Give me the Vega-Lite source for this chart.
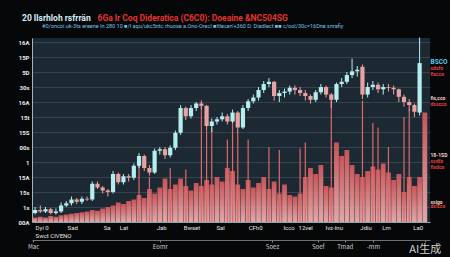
{
  "$schema": "https://vega.github.io/schema/vega-lite/v6.json",
  "autosize": {"type": "none"},
  "width": 398,
  "height": 184,
  "padding": {"left": 32, "top": 38, "right": 20, "bottom": 35},
  "background": "#060708",
  "config": {
    "view": {"fill": "#1c2933", "stroke": null},
    "font": "Roboto"
  },
  "title": {
    "text": "20  Ilsrhloh rsfrrän",
    "subtitle": "\u2800\u2800\u2800\u2800\u2800#0/oncoi.uk-3ts ereene In 280 10 ■/I aqu/ukc5ntc.rhuose a.Ono-Orecl ■Itlecen'+360 D: Diadlect ■■ c/ool/30c=16Dne snrafiy",
    "anchor": "start",
    "frame": "group",
    "dx": -10,
    "offset": -16,
    "color": "#d8eef8",
    "fontSize": 8.5,
    "fontWeight": "bold",
    "subtitleColor": "#78c4e6",
    "subtitleFontSize": 5.5,
    "subtitlePadding": 1
  },
  "data": {
    "values": [
      {"i": 0, "o": 0.6, "c": 0.8, "h": 1.0, "l": 0.5, "v": 0.3},
      {"i": 1, "o": 0.8, "c": 0.7, "h": 1.1, "l": 0.6, "v": 0.35},
      {"i": 2, "o": 0.7, "c": 0.85, "h": 1.0, "l": 0.6, "v": 0.3},
      {"i": 3, "o": 0.85, "c": 0.6, "h": 0.95, "l": 0.5, "v": 0.4},
      {"i": 4, "o": 0.6, "c": 0.7, "h": 0.9, "l": 0.5, "v": 0.35},
      {"i": 5, "o": 0.7, "c": 1.1, "h": 1.3, "l": 0.6, "v": 0.45},
      {"i": 6, "o": 1.1, "c": 1.25, "h": 1.4, "l": 1.0, "v": 0.5},
      {"i": 7, "o": 1.25, "c": 1.5, "h": 1.7, "l": 1.1, "v": 0.55},
      {"i": 8, "o": 1.5, "c": 1.35, "h": 1.6, "l": 1.2, "v": 0.6},
      {"i": 9, "o": 1.35, "c": 1.55, "h": 1.7, "l": 1.2, "v": 0.65},
      {"i": 10, "o": 1.55, "c": 1.5, "h": 1.7, "l": 1.4, "v": 0.7},
      {"i": 11, "o": 1.5, "c": 2.55, "h": 2.7, "l": 1.4, "v": 0.8},
      {"i": 12, "o": 2.55, "c": 2.3, "h": 2.7, "l": 2.2, "v": 0.75},
      {"i": 13, "o": 2.3, "c": 2.1, "h": 2.4, "l": 1.9, "v": 0.9},
      {"i": 14, "o": 2.1, "c": 2.0, "h": 2.2, "l": 1.7, "v": 1.0},
      {"i": 15, "o": 2.0, "c": 3.2, "h": 3.4, "l": 1.9, "v": 1.1},
      {"i": 16, "o": 3.2, "c": 2.65, "h": 3.3, "l": 2.5, "v": 1.3},
      {"i": 17, "o": 2.65, "c": 3.05, "h": 3.2, "l": 2.5, "v": 1.2},
      {"i": 18, "o": 3.05, "c": 2.95, "h": 3.2, "l": 2.7, "v": 1.4},
      {"i": 19, "o": 2.95, "c": 3.75, "h": 3.9, "l": 2.8, "v": 1.5},
      {"i": 20, "o": 3.75, "c": 4.4, "h": 4.6, "l": 3.6, "v": 1.8, "s": 4.1},
      {"i": 21, "o": 4.4, "c": 3.6, "h": 4.5, "l": 3.4, "v": 1.6},
      {"i": 22, "o": 3.6, "c": 3.3, "h": 3.8, "l": 3.1, "v": 2.2, "s": 3.0},
      {"i": 23, "o": 3.3, "c": 4.75, "h": 4.9, "l": 3.2, "v": 1.9},
      {"i": 24, "o": 4.75, "c": 4.85, "h": 5.0, "l": 4.5, "v": 2.3},
      {"i": 25, "o": 4.85, "c": 4.45, "h": 5.0, "l": 4.2, "v": 2.9},
      {"i": 26, "o": 4.45, "c": 4.95, "h": 5.1, "l": 4.3, "v": 2.2, "s": 3.6},
      {"i": 27, "o": 4.95, "c": 5.95, "h": 6.1, "l": 4.8, "v": 2.5},
      {"i": 28, "o": 5.95, "c": 7.6, "h": 7.8, "l": 5.8, "v": 2.9},
      {"i": 29, "o": 7.6, "c": 7.05, "h": 7.7, "l": 6.8, "v": 2.4, "s": 3.5},
      {"i": 30, "o": 7.05, "c": 7.6, "h": 7.8, "l": 6.9, "v": 2.1},
      {"i": 31, "o": 7.6, "c": 7.9, "h": 8.0, "l": 7.4, "v": 2.6},
      {"i": 32, "o": 7.9, "c": 7.75, "h": 8.1, "l": 7.5, "v": 2.4, "s": 8.0},
      {"i": 33, "o": 7.75, "c": 6.4, "h": 7.8, "l": 6.1, "v": 2.8, "s": 6.1},
      {"i": 34, "o": 6.4, "c": 6.7, "h": 6.9, "l": 6.0, "v": 2.5, "s": 6.3},
      {"i": 35, "o": 6.7, "c": 6.85, "h": 7.0, "l": 6.5, "v": 3.0},
      {"i": 36, "o": 6.85, "c": 7.05, "h": 7.3, "l": 6.7, "v": 2.7},
      {"i": 37, "o": 7.05, "c": 6.7, "h": 7.2, "l": 6.5, "v": 3.6, "s": 5.5},
      {"i": 38, "o": 6.7, "c": 7.3, "h": 7.5, "l": 6.6, "v": 3.4, "s": 7.0},
      {"i": 39, "o": 7.3, "c": 6.3, "h": 7.4, "l": 5.9, "v": 2.5, "s": 5.9},
      {"i": 40, "o": 6.3, "c": 7.6, "h": 7.8, "l": 6.2, "v": 2.2},
      {"i": 41, "o": 7.6, "c": 8.05, "h": 8.2, "l": 7.4, "v": 2.8, "s": 5.5},
      {"i": 42, "o": 8.05, "c": 8.3, "h": 8.5, "l": 7.9, "v": 2.3},
      {"i": 43, "o": 8.3, "c": 8.8, "h": 9.0, "l": 8.1, "v": 2.6},
      {"i": 44, "o": 8.8, "c": 9.2, "h": 9.4, "l": 8.6, "v": 3.0},
      {"i": 45, "o": 9.2, "c": 9.35, "h": 9.6, "l": 9.0, "v": 2.2, "s": 5.0},
      {"i": 46, "o": 9.35, "c": 8.4, "h": 9.4, "l": 8.1, "v": 2.7},
      {"i": 47, "o": 8.4, "c": 8.6, "h": 8.8, "l": 8.0, "v": 1.9, "s": 4.8},
      {"i": 48, "o": 8.6, "c": 8.7, "h": 8.9, "l": 8.3, "v": 2.5},
      {"i": 49, "o": 8.7, "c": 8.95, "h": 9.1, "l": 8.5, "v": 1.8},
      {"i": 50, "o": 8.95, "c": 8.8, "h": 9.1, "l": 8.5, "v": 1.7},
      {"i": 51, "o": 8.8, "c": 8.6, "h": 9.0, "l": 8.4, "v": 1.9, "s": 4.9},
      {"i": 52, "o": 8.6, "c": 8.4, "h": 8.8, "l": 8.1, "v": 3.0, "s": 5.3},
      {"i": 53, "o": 8.4, "c": 8.15, "h": 8.5, "l": 7.9, "v": 3.6},
      {"i": 54, "o": 8.15, "c": 8.65, "h": 8.8, "l": 8.0, "v": 3.2},
      {"i": 55, "o": 8.65, "c": 9.0, "h": 9.2, "l": 8.5, "v": 3.8},
      {"i": 56, "o": 9.0, "c": 8.5, "h": 9.1, "l": 8.3, "v": 2.4},
      {"i": 57, "o": 8.5, "c": 8.15, "h": 8.6, "l": 7.6, "v": 2.3, "s": 8.1},
      {"i": 58, "o": 8.15, "c": 9.2, "h": 9.3, "l": 8.0, "v": 5.3},
      {"i": 59, "o": 9.2, "c": 9.35, "h": 9.6, "l": 9.0, "v": 4.4},
      {"i": 60, "o": 9.35, "c": 9.8, "h": 10.0, "l": 9.2, "v": 4.8},
      {"i": 61, "o": 9.8, "c": 10.05, "h": 10.9, "l": 9.6, "v": 3.8},
      {"i": 62, "o": 10.05, "c": 10.15, "h": 10.4, "l": 9.7, "v": 3.2},
      {"i": 63, "o": 10.35, "c": 8.5, "h": 10.5, "l": 8.2, "v": 3.0, "s": 8.1},
      {"i": 64, "o": 8.5, "c": 9.0, "h": 9.3, "l": 8.3, "v": 3.4},
      {"i": 65, "o": 9.0, "c": 9.15, "h": 9.4, "l": 8.8, "v": 3.7, "s": 6.6},
      {"i": 66, "o": 9.15, "c": 8.85, "h": 9.3, "l": 8.6, "v": 3.5, "s": 6.3},
      {"i": 67, "o": 8.85, "c": 9.0, "h": 9.2, "l": 8.5, "v": 3.9},
      {"i": 68, "o": 9.0, "c": 8.95, "h": 9.2, "l": 8.7, "v": 3.3, "s": 5.0},
      {"i": 69, "o": 8.95, "c": 8.85, "h": 9.1, "l": 8.5, "v": 2.8},
      {"i": 70, "o": 8.85, "c": 8.35, "h": 8.9, "l": 8.0, "v": 3.2},
      {"i": 71, "o": 8.35, "c": 8.0, "h": 8.5, "l": 7.7, "v": 2.0, "s": 7.0},
      {"i": 72, "o": 8.0, "c": 7.8, "h": 8.2, "l": 7.4, "v": 3.0, "s": 7.5},
      {"i": 73, "o": 7.8, "c": 7.35, "h": 7.9, "l": 7.0, "v": 2.4},
      {"i": 74, "o": 7.3, "c": 10.6, "h": 12.3, "l": 7.1, "v": 3.0},
      {"i": 75, "v": 7.3}
    ]
  },
  "resolve": {"axis": {"x": "independent", "y": "independent"}},
  "layer": [
    {
      "mark": {
        "type": "bar",
        "size": 4.8,
        "opacity": 0.92,
        "color": {
          "gradient": "linear",
          "x1": 0, "y1": 0, "x2": 0, "y2": 1,
          "stops": [
            {"offset": 0, "color": "#d6585b"},
            {"offset": 1, "color": "#f2b2b2"}
          ]
        }
      },
      "encoding": {
        "x": {"field": "i", "type": "quantitative", "scale": {"domain": [-0.6, 76], "nice": false, "zero": false, "padding": 0}, "axis": null},
        "y": {"field": "v", "type": "quantitative", "scale": {"domain": [0, 12.27], "nice": false, "zero": false}, "axis": null}
      }
    },
    {
      "transform": [{"filter": "isValid(datum.s)"}],
      "mark": {"type": "rule", "color": "#dc6a6a", "strokeWidth": 1.2},
      "encoding": {
        "x": {"field": "i", "type": "quantitative", "axis": null},
        "y": {"field": "s", "type": "quantitative", "axis": null},
        "y2": {"datum": 0}
      }
    },
    {
      "transform": [{"filter": "isValid(datum.o)"}],
      "mark": {"type": "rule", "strokeWidth": 1},
      "encoding": {
        "x": {
          "field": "i", "type": "quantitative",
          "axis": {
            "orient": "bottom",
            "title": null,
            "values": [0, 6.15, 13.1, 16.2, 23.3, 28.5, 34.8, 41, 47.7, 50.6, 55.8, 62.5, 66.7, 72.7],
            "labelExpr": "[['Dyi 0', 'Swct CIVENO'], 'Sad', 'Sa', 'Lat', 'Jab', 'Bwset', 'Sal', 'CFh0', 'Icco', '12vel', 'Ivz-Inu', 'Jdiu', 'Lm', 'La0'][indexof([0, 6.15, 13.1, 16.2, 23.3, 28.5, 34.8, 41, 47.7, 50.6, 55.8, 62.5, 66.7, 72.7], datum.value)]",
            "labelAlign": "left",
            "labelFlush": false,
            "labelOverlap": false,
            "labelBound": false,
            "labelColor": "#e6e6e6",
            "labelFontSize": 6,
            "labelLineHeight": 8,
            "labelPadding": 2,
            "ticks": false,
            "grid": false,
            "domain": true,
            "domainColor": "#8fa6ae",
            "domainWidth": 1
          }
        },
        "y": {
          "field": "l", "type": "quantitative",
          "axis": {
            "orient": "left",
            "title": "6Ga  lr  Coq Dideratica (C6C0): Doeaine &NC504SG",
            "titleAngle": 0,
            "titleX": 65,
            "titleY": -18,
            "titleAlign": "left",
            "titleBaseline": "alphabetic",
            "titleColor": "#e8342e",
            "titleFontSize": 8.5,
            "titleFontWeight": "bold",
            "values": [0, 1, 2, 3, 4, 5, 6, 7, 8, 9, 10, 11, 12],
            "labelExpr": "['00A', '1s', '15s', '15A', '1', '00s', '15S', '15t', '16A', '30s', '5D', '15P', '16A'][datum.value]",
            "labelColor": "#ececec",
            "labelFontSize": 6,
            "labelFontWeight": "bold",
            "labelPadding": 3,
            "ticks": false,
            "grid": true,
            "gridColor": "#5d6f7c",
            "gridOpacity": 0.55,
            "gridWidth": 0.7,
            "domain": true,
            "domainColor": "#9fb4bd",
            "domainWidth": 1
          }
        },
        "y2": {"field": "h"},
        "color": {"condition": {"test": "datum.c >= datum.o", "value": "#b6eef0"}, "value": "#e9a2a2"}
      }
    },
    {
      "transform": [{"filter": "isValid(datum.o)"}],
      "mark": {"type": "bar", "size": 4.2},
      "encoding": {
        "x": {
          "field": "i", "type": "quantitative",
          "axis": {
            "orient": "bottom",
            "offset": 18,
            "title": null,
            "values": [-0.4, 24, 45.6, 54.4, 59.6, 65, 75],
            "labelExpr": "['Mac', 'Eomr', 'Soez', 'Soef', 'Tmad', '-mm', 'AI生成'][indexof([-0.4, 24, 45.6, 54.4, 59.6, 65, 75], datum.value)]",
            "labelFont": "Noto Sans CJK SC",
            "labelFontSize": {"condition": {"test": "datum.value == 75", "value": 11}, "value": 6},
            "labelColor": {"condition": {"test": "datum.value == 75", "value": "#d4d4d4"}, "value": "#d0d0d0"},
            "labelFlush": false,
            "labelOverlap": false,
            "labelBound": false,
            "labelPadding": 1,
            "ticks": true,
            "tickSize": 2,
            "tickColor": "#8a8a8a",
            "grid": false,
            "domain": true,
            "domainColor": "#6f7376",
            "domainWidth": 1
          }
        },
        "y": {
          "field": "o", "type": "quantitative",
          "axis": {
            "orient": "right",
            "title": null,
            "values": [10.67, 10.27, 9.93, 8.33, 7.93, 4.47, 4.07, 3.73, 1.4, 1.07],
            "labelExpr": "['BSCO', 'sdsfo', 'fiscco', 'fis,cco', 'dsscco', '18-1SD', 'ssdfo', 'fisdco', 'ssigo', 'dsicco'][indexof([10.67, 10.27, 9.93, 8.33, 7.93, 4.47, 4.07, 3.73, 1.4, 1.07], datum.value)]",
            "labelColor": {"condition": [
              {"test": "datum.value == 10.67", "value": "#5ccff0"},
              {"test": "datum.value == 8.33 || datum.value == 4.47 || datum.value == 1.4", "value": "#f2d0d0"}
            ], "value": "#e8403a"},
            "labelFontSize": {"condition": {"test": "datum.value == 10.67", "value": 6.5}, "value": 5},
            "labelFontWeight": "bold",
            "labelPadding": 0,
            "labelOverlap": false,
            "labelBound": false,
            "labelFlush": false,
            "ticks": false,
            "grid": false,
            "domain": false
          }
        },
        "y2": {"field": "c"},
        "color": {"condition": {"test": "datum.c >= datum.o", "value": "#b6eef0"}, "value": "#e9a2a2"}
      }
    }
  ]
}
